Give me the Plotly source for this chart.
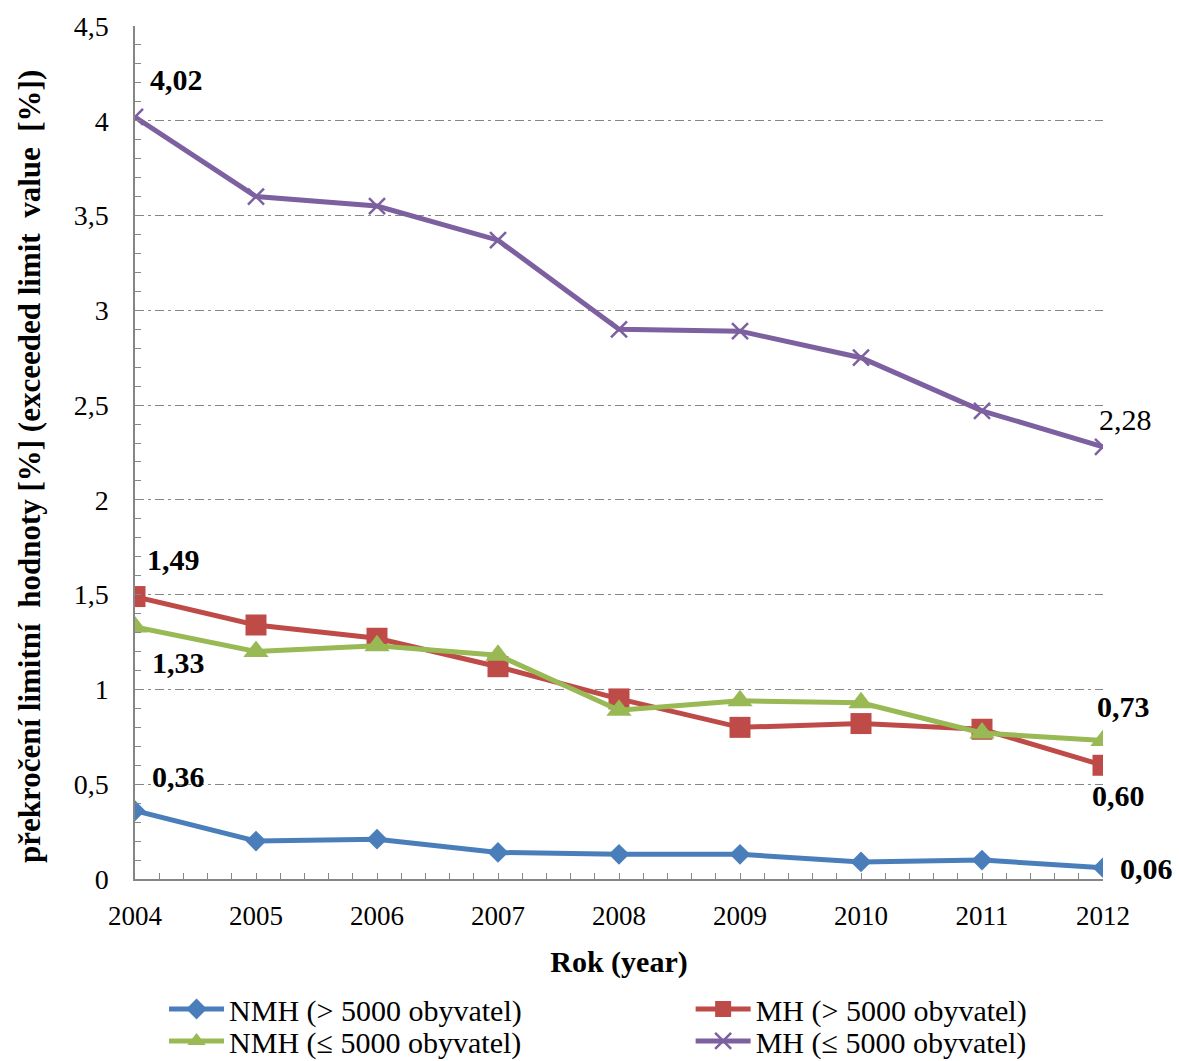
import plotly.graph_objects as go

years = [2004, 2005, 2006, 2007, 2008, 2009, 2010, 2011, 2012]

nmh_big = [0.36, 0.20, 0.21, 0.14, 0.13, 0.13, 0.09, 0.10, 0.06]     # NMH (> 5000 obyvatel)
mh_big = [1.49, 1.34, 1.27, 1.12, 0.95, 0.80, 0.82, 0.79, 0.60]      # MH (> 5000 obyvatel)
nmh_small = [1.33, 1.20, 1.23, 1.18, 0.89, 0.94, 0.93, 0.77, 0.73]   # NMH (≤ 5000 obyvatel)
mh_small = [4.02, 3.60, 3.55, 3.37, 2.90, 2.89, 2.75, 2.47, 2.28]    # MH (≤ 5000 obyvatel)

names = ["NMH (> 5000 obyvatel)", "MH (> 5000 obyvatel)",
         "NMH (≤ 5000 obyvatel)", "MH (≤ 5000 obyvatel)"]
y_title = "překročení limitní  hodnoty [%] (exceeded limit  value  [%])"
x_title = "Rok (year)"

FONT = "'Liberation Serif', 'Times New Roman', 'DejaVu Serif', serif"
BLUE, RED, GREEN, PURPLE = "#4A7EBB", "#BE4B48", "#98B954", "#7D60A0"
AXIS = "#868686"

fig = go.Figure()

fig.add_trace(go.Scatter(
    x=years, y=nmh_big, name=names[0], mode="lines+markers", legend="legend",
    line=dict(color=BLUE, width=5),
    marker=dict(symbol="diamond", size=16, color=BLUE)))
fig.add_trace(go.Scatter(
    x=years, y=mh_big, name=names[1], mode="lines+markers", legend="legend2",
    line=dict(color=RED, width=5),
    marker=dict(symbol="square", size=21, color=RED)))
fig.add_trace(go.Scatter(
    x=years, y=nmh_small, name=names[2], mode="lines+markers", legend="legend3",
    line=dict(color=GREEN, width=5),
    marker=dict(symbol="triangle-up", size=22, color=GREEN)))
fig.add_trace(go.Scatter(
    x=years, y=mh_small, name=names[3], mode="lines+markers", legend="legend4",
    line=dict(color=PURPLE, width=5),
    marker=dict(symbol="x-thin", size=16, color=PURPLE,
                line=dict(color=PURPLE, width=2.5))))


def fmt(v):
    return f"{v:.2f}".replace(".", ",")


# value labels: (series, index, x shift, y shift, bold)
labels = [
    (mh_small, 0, 41, 37, True),
    (mh_small, 8, 22, 27, False),
    (mh_big, 0, 38, 37, True),
    (nmh_small, 0, 43, -36, True),
    (nmh_big, 0, 43, 34, True),
    (nmh_small, 8, 20, 34, True),
    (mh_big, 8, 15, -30, True),
    (nmh_big, 8, 43, -1, True),
]
for series, i, dx, dy, bold in labels:
    txt = fmt(series[i])
    fig.add_annotation(
        x=years[i], y=series[i], xref="x", yref="y",
        text=f"<b>{txt}</b>" if bold else txt,
        showarrow=False, xshift=dx, yshift=dy,
        font=dict(family=FONT, size=30, color="black"))

# vertical axis title, placed as a rotated paper-anchored annotation
fig.add_annotation(
    x=-0.1095, y=0.483, xref="paper", yref="paper",
    xanchor="center", yanchor="middle", textangle=-90,
    text=f"<b>{y_title}</b>", showarrow=False,
    font=dict(family=FONT, size=31, color="black"))


def legend_box(x, y):
    return dict(x=x, y=y, xanchor="left", yanchor="middle", visible=True,
                font=dict(family=FONT, size=30, color="black"), itemwidth=55,
                bgcolor="rgba(0,0,0,0)", borderwidth=0)


row1, row2 = -0.1524, -0.1899
fig.update_layout(
    width=1179, height=1061,
    margin=dict(l=135, r=76, t=26, b=182, autoexpand=False),
    paper_bgcolor="white", plot_bgcolor="white",
    separators=", ",
    showlegend=True,
    font=dict(family=FONT, size=27, color="black"),
    legend=legend_box(0.03, row1),
    legend2=legend_box(0.574, row1),
    legend3=legend_box(0.03, row2),
    legend4=legend_box(0.574, row2),
)

fig.update_xaxes(
    range=[2004, 2012], dtick=1, tick0=2004,
    showgrid=False, zeroline=False,
    showline=True, linecolor=AXIS, linewidth=1.5,
    ticks="inside", ticklen=6, tickcolor=AXIS,
    minor=dict(ticks="inside", dtick=0.2, ticklen=6, tickcolor=AXIS, showgrid=False),
    ticklabelstandoff=12,
    tickfont=dict(family=FONT, size=27),
    title=dict(text=f"<b>{x_title}</b>", font=dict(family=FONT, size=30), standoff=21),
)

fig.update_yaxes(
    range=[0, 4.5], dtick=0.5, tick0=0,
    showgrid=True, gridcolor="#868686", gridwidth=1, griddash="9px,4px,3px,4px",
    zeroline=False,
    showline=True, linecolor=AXIS, linewidth=1.5,
    ticks="inside", ticklen=6, tickcolor=AXIS,
    minor=dict(ticks="inside", dtick=0.1, ticklen=6, tickcolor=AXIS, showgrid=False),
    ticklabelstandoff=19,
    tickfont=dict(family=FONT, size=28),
)

fig.write_html("out.html")
